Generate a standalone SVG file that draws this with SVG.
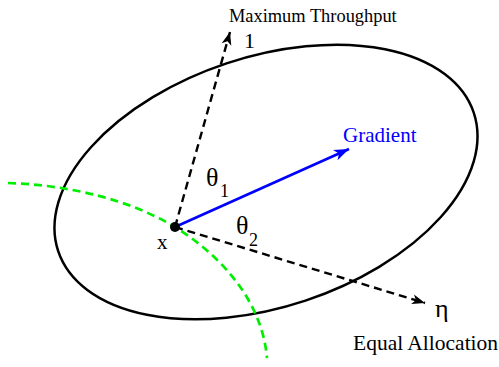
<svg xmlns="http://www.w3.org/2000/svg" width="499" height="367" viewBox="0 0 499 367">
<style>
.lbl{font-family:"Liberation Serif","Times New Roman",serif;fill:#000}
.blue{fill:#0000ff}
.dash{fill:none;stroke:#000;stroke-width:2.4;stroke-dasharray:8 5}
</style>
<defs>
<marker id="ah" viewBox="-14 -6 15 12" refX="0" refY="0" markerWidth="15" markerHeight="12" markerUnits="userSpaceOnUse" orient="auto">
<path d="M0,0 L-13,-5 L-9.5,0 L-13,5 Z" fill="#000"/>
</marker>
<marker id="ahb" viewBox="-16 -7 17 14" refX="0" refY="0" markerWidth="17" markerHeight="14" markerUnits="userSpaceOnUse" orient="auto">
<path d="M0,0 L-15,-5.5 L-11,0 L-15,5.5 Z" fill="#0000ff"/>
</marker>
</defs>
<rect width="499" height="367" fill="#fff"/>
<g id="ellipse">
<ellipse cx="266" cy="182" rx="219" ry="125" transform="rotate(-18.4 266 182)" fill="none" stroke="#000" stroke-width="2.5"/>
</g>
<g id="curve">
<path d="M8,183 C70,185 130,200 175,227 C220,255 262,300 267,358" fill="none" stroke="#00ee00" stroke-width="2.7" stroke-dasharray="8 5"/>
</g>
<g id="connectors">
<path class="dash" d="M175,227 L230,32" marker-end="url(#ah)"/>
<path class="dash" d="M175,227 L425,303" marker-end="url(#ah)"/>
<path d="M175,227 L349,149" fill="none" stroke="#0000ff" stroke-width="2.6" marker-end="url(#ahb)"/>
</g>
<g id="point-x">
<circle cx="175" cy="227" r="5" fill="#000"/>
<text class="lbl" x="157" y="249" font-size="21">x</text>
</g>
<g id="labels">
<text class="lbl" x="229" y="22" font-size="18.4">Maximum Throughput</text>
<text class="lbl" x="244" y="48" font-size="22">1</text>
<text class="lbl blue" x="343" y="142" font-size="21">Gradient</text>
<text class="lbl" x="206" y="186" font-size="26">θ</text>
<text class="lbl" x="220" y="197" font-size="18">1</text>
<text class="lbl" x="236" y="234" font-size="26">θ</text>
<text class="lbl" x="249" y="246" font-size="18">2</text>
<text class="lbl" x="435" y="317" font-size="26">η</text>
<text class="lbl" x="353" y="350" font-size="21.5">Equal Allocation</text>
</g>
</svg>
